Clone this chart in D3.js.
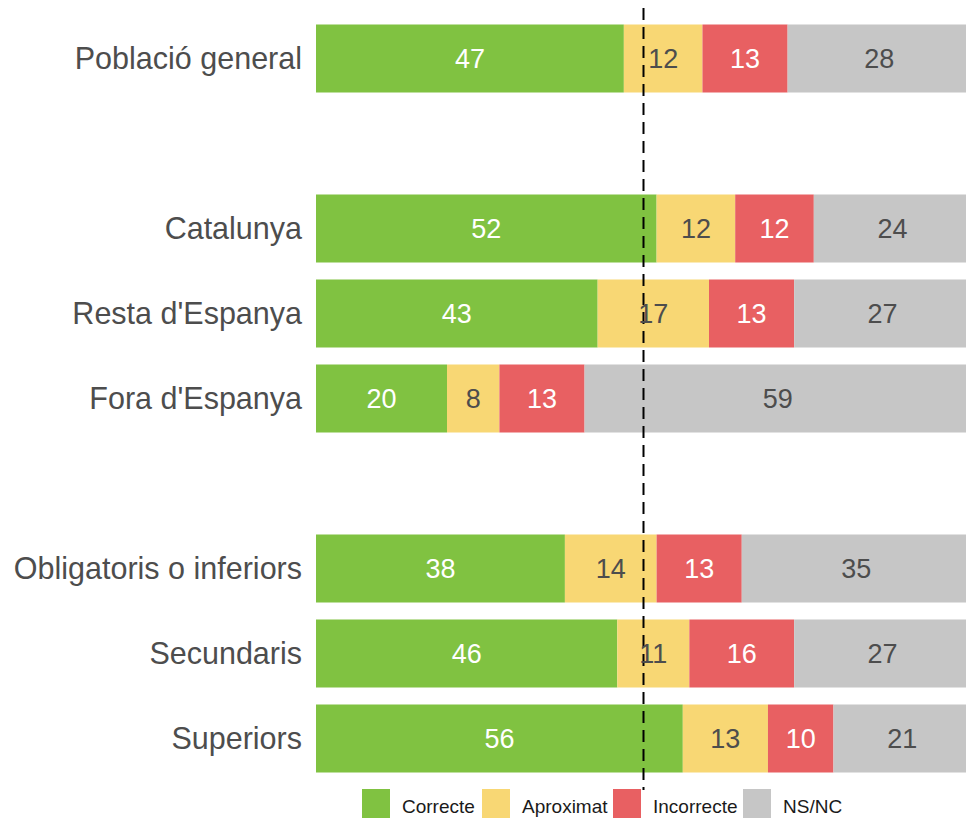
<!DOCTYPE html>
<html>
<head>
<meta charset="utf-8">
<script src="https://cdn.jsdelivr.net/npm/d3@7"></script>
<style>
  html, body { margin: 0; padding: 0; background: #ffffff; }
  svg { display: block; font-family: Arial, "Liberation Sans", sans-serif; }
</style>
</head>
<body>
<svg id="chart" width="966" height="820"></svg>
<script>
// ---- data ----
const categories = ["Població general", null, "Catalunya", "Resta d'Espanya", "Fora d'Espanya", null, "Obligatoris o inferiors", "Secundaris", "Superiors"];
const seriesNames = ["Correcte", "Aproximat", "Incorrecte", "NS/NC"];
const correcte   = [47, null, 52, 43, 20, null, 38, 46, 56];
const aproximat  = [12, null, 12, 17,  8, null, 14, 11, 13];
const incorrecte = [13, null, 12, 13, 13, null, 13, 16, 10];
const nsnc       = [28, null, 24, 27, 59, null, 35, 27, 21];
const referenceLine = 50;

const colors = ["#80c241", "#f8d774", "#e86062", "#c6c6c6"];
const textColors = ["#ffffff", "#4d4d4d", "#ffffff", "#4d4d4d"];

// ---- build ----
const svg = d3.select("#chart");
const slots = categories.map((c, i) => i);
const y = d3.scaleBand().domain(slots).range([16, 781]).paddingInner(0.2).paddingOuter(0.1);
const x = d3.scaleLinear().domain([0, 100]).range([316, 971]);

const rows = categories.map((c, i) => ({
  i, name: c,
  Correcte: correcte[i], Aproximat: aproximat[i], Incorrecte: incorrecte[i], "NS/NC": nsnc[i]
})).filter(d => d.name !== null);

const stack = d3.stack().keys(seriesNames);
const stacked = stack(rows);

const gBars = svg.append("g");
stacked.forEach((layer, k) => {
  const g = gBars.append("g");
  g.selectAll("rect").data(layer).join("rect")
    .attr("x", d => x(d[0]))
    .attr("width", d => x(d[1]) - x(d[0]))
    .attr("y", d => y(d.data.i))
    .attr("height", y.bandwidth())
    .attr("fill", colors[k]);
});

// reference dashed line
svg.append("line")
  .attr("x1", x(referenceLine)).attr("x2", x(referenceLine))
  .attr("y1", 8).attr("y2", 790)
  .attr("stroke", "#000").attr("stroke-width", 2)
  .attr("stroke-dasharray", "12,7");

// value labels
stacked.forEach((layer, k) => {
  svg.append("g").selectAll("text").data(layer).join("text")
    .attr("x", d => (x(d[0]) + x(d[1])) / 2)
    .attr("y", d => y(d.data.i) + y.bandwidth() / 2)
    .attr("dy", "0.36em")
    .attr("text-anchor", "middle")
    .attr("font-size", 27)
    .attr("fill", textColors[k])
    .text(d => d[1] - d[0]);
});

// category labels
svg.append("g").selectAll("text").data(rows).join("text")
  .attr("x", 302)
  .attr("y", d => y(d.i) + y.bandwidth() / 2)
  .attr("dy", "0.36em")
  .attr("text-anchor", "end")
  .attr("font-size", 30.5)
  .attr("fill", "#4d4d4d")
  .text(d => d.name);

// legend
const legendKeyX = [362, 482, 613, 743];
const legend = svg.append("g");
seriesNames.forEach((s, k) => {
  legend.append("rect")
    .attr("x", legendKeyX[k]).attr("y", 789)
    .attr("width", 28).attr("height", 29)
    .attr("fill", colors[k]);
  legend.append("text")
    .attr("x", legendKeyX[k] + 40).attr("y", 813)
    .attr("font-size", 19)
    .attr("fill", "#1a1a1a")
    .text(s);
});
</script>
</body>
</html>
